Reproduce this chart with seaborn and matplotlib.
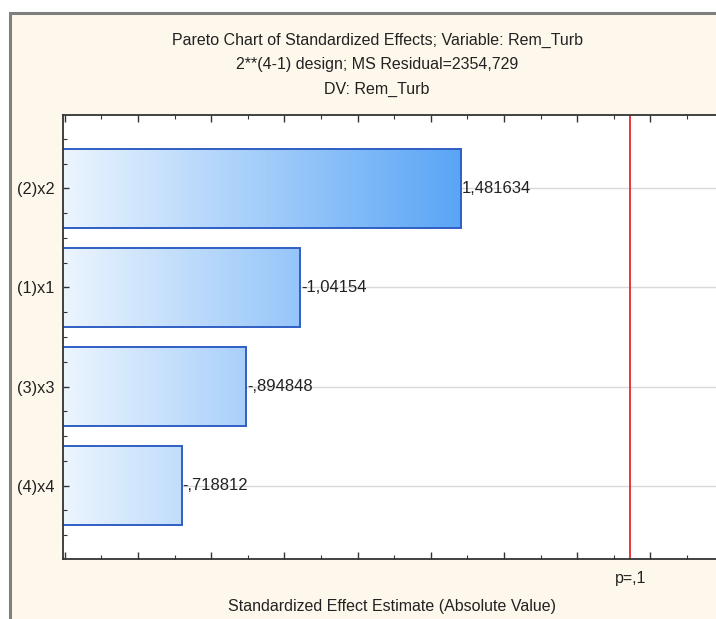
import numpy as np
import pandas as pd
import matplotlib
matplotlib.use("Agg")
import matplotlib.pyplot as plt
from matplotlib.patches import Rectangle
from matplotlib.colors import LinearSegmentedColormap
from matplotlib.ticker import MultipleLocator, NullFormatter
from matplotlib.transforms import blended_transform_factory
import seaborn as sns

# Effects, sorted by absolute size
factors = ["(2)x2", "(1)x1", "(3)x3", "(4)x4"]
effects = [1.481634, -1.04154, -0.894848, -0.718812]
p_critical = 1.945
p_label = "p=,1"

title_lines = [
    "Pareto Chart of Standardized Effects; Variable: Rem_Turb",
    "2**(4-1) design; MS Residual=2354,729",
    "DV: Rem_Turb",
]
x_title = "Standardized Effect Estimate (Absolute Value)"


def stat_fmt(v):
    s = f"{v:.7g}"
    s = s.replace("-0.", "-.")
    if s.startswith("0."):
        s = s[1:]
    return s.replace(".", ",")


df = pd.DataFrame({"factor": factors, "effect": effects})
df["abs_effect"] = df["effect"].abs()

sns.set_style("white")
plt.rcParams["font.family"] = ["Liberation Sans", "DejaVu Sans"]

W, H = 716, 619
fig = plt.figure(figsize=(W / 100, H / 100), dpi=100)
fig.patch.set_facecolor("white")
fig.add_artist(Rectangle((10 / W, -0.1), 1.2, (H - 13) / H + 0.1,
                         transform=fig.transFigure, facecolor="#fef8ec",
                         edgecolor="#7f7f7f", linewidth=2.2, zorder=0))

ax = fig.add_axes([63 / W, 60 / H, 1 - 63 / W, (559 - 115) / H])
ax.set_facecolor("white")

sns.barplot(data=df, x="abs_effect", y="factor", orient="h", ax=ax,
            width=0.8, color="white", edgecolor="#2f5fc4", linewidth=1.4,
            zorder=3)

xmin, xmax = 0.395, 2.179
ymin, ymax = -0.74, len(factors) - 1 + 0.74

# Horizontal gradient fill clipped to each bar
cmap = LinearSegmentedColormap.from_list("grad", ["#ecf5fe", "#5aa5f6"])
grad = np.linspace(0, 1, 256).reshape(1, -1)
gx1 = 1.481634
for patch in ax.patches:
    im = ax.imshow(grad, cmap=cmap, aspect="auto",
                   extent=(xmin, gx1, ymax, ymin), zorder=2.5,
                   interpolation="bilinear")
    im.set_clip_path(patch)
    patch.set_facecolor("none")
ax.set_xlim(xmin, xmax)
ax.set_ylim(ymax, ymin)

# Gridlines at category centres
for i in range(len(factors)):
    ax.axhline(i, color="#d9d9d9", linewidth=1.0, zorder=1)

# Critical value line
ax.axvline(p_critical, color="#e8262a", linewidth=1.3, zorder=4)

# Value labels
for i, v in enumerate(df["effect"]):
    ax.text(abs(v) + 0.003, i, stat_fmt(v), va="center", ha="left",
            fontsize=12, color="#222222", zorder=5)

# Ticks
ax.xaxis.set_major_locator(MultipleLocator(0.2))
ax.xaxis.set_minor_locator(MultipleLocator(0.1))
ax.xaxis.set_major_formatter(NullFormatter())
ax.yaxis.set_minor_locator(MultipleLocator(0.25))
ax.tick_params(axis="x", which="both", direction="in", top=True, bottom=True,
               color="#333333")
ax.tick_params(axis="x", which="major", length=5, width=1)
ax.tick_params(axis="x", which="minor", length=3, width=0.8)
ax.tick_params(axis="y", which="both", direction="in", left=True,
               color="#333333")
ax.tick_params(axis="y", which="major", length=4, width=1, labelsize=11.8,
               labelcolor="#222222", pad=6)
ax.tick_params(axis="y", which="minor", length=3, width=0.8)
ax.set_ylabel("")
ax.set_xlabel("")
ax.xaxis.set_zorder(6)
ax.yaxis.set_zorder(6)

for side in ["left", "bottom", "top"]:
    ax.spines[side].set_visible(True)
    ax.spines[side].set_color("#333333")
    ax.spines[side].set_linewidth(1.3)
    ax.spines[side].set_zorder(6)
ax.spines["right"].set_visible(False)

trans = blended_transform_factory(ax.transData, fig.transFigure)
fig.text(p_critical, (H - 579) / H, p_label, transform=trans, ha="center",
         va="center", fontsize=11.5, color="#222222")
fig.text(392 / W, (H - 607) / H, x_title, ha="center", va="center",
         fontsize=11.5, color="#222222")

for line, yy in zip(title_lines, [40, 64, 89]):
    fig.text(377 / W, (H - yy) / H, line, ha="center", va="center",
             fontsize=11.5, color="#222222")

fig.savefig("out.png", dpi=100, facecolor=fig.get_facecolor())
